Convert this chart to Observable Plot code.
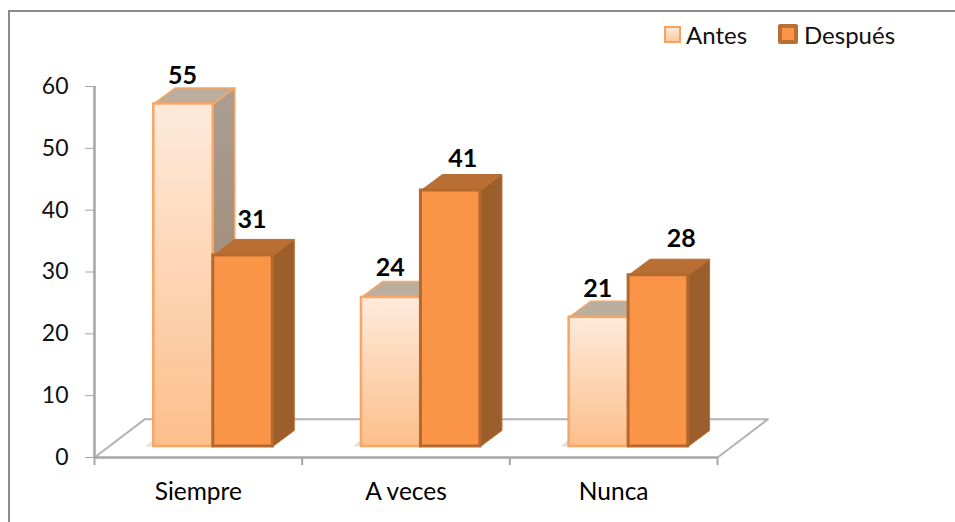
<!DOCTYPE html>
<html>
<head>
<meta charset="utf-8">
<script src="https://cdn.jsdelivr.net/npm/d3@7"></script>
<script src="https://cdn.jsdelivr.net/npm/@observablehq/plot@0.6"></script>
<style>
html,body{margin:0;padding:0;background:#fff;width:955px;height:522px;overflow:hidden;font-family:Lato,sans-serif}
#wrap{position:relative;width:955px;height:522px}
#frame{position:absolute;left:8px;top:10px;right:-4px;bottom:-4px;border:2px solid #8c8c8c}
#legend{position:absolute;left:0;top:0;font-size:24px;color:#111}
.sw{position:absolute;box-sizing:border-box}
.lb{position:absolute;line-height:24px}
svg{position:absolute;left:0;top:0}
</style>
</head>
<body>
<div id="wrap">
<div id="frame"></div>
<div id="chart"></div>
<div id="legend">
  <div class="sw" style="left:664px;top:26px;width:17px;height:17px;border:2.5px solid #f9a25f;background:linear-gradient(#fee9d9,#fcc9a0)"></div>
  <div class="lb" style="left:686px;top:23px" id="l0"></div>
  <div class="sw" style="left:778px;top:24px;width:20px;height:20px;border:4.5px solid #b96f33;border-radius:2px;background:#fa9548"></div>
  <div class="lb" style="left:804px;top:23px" id="l1"></div>
</div>
</div>
<script>
const categories = ["Siempre", "A veces", "Nunca"];
const seriesNames = ["Antes", "Después"];
const antes = [55.4, 24.1, 20.9];
const despues = [30.9, 41.4, 27.7];
const yTicks = [0, 10, 20, 30, 40, 50, 60];
const catEdges = [0, 1, 2, 3];

// oblique 3-D projection, in data units
const barBase = 1.78, barWidth = 0.2865, barShift = 0.072;
const depthX = 0.1035, depthY = 2.59;
const floorX = 0.243, floorY = 6.2;

document.getElementById("l0").textContent = seriesNames[0];
document.getElementById("l1").textContent = seriesNames[1];

const styles = [
  {front:"url(#gA)", edge:"#f9a563", top:"#bcae9f", side:"url(#gS)", w:2.5},
  {front:"#fa9548", edge:"#b5692f", top:"#b96f33", side:"#9c5e2a", w:3}
];
const labelShift = [
  [[-1,-12],[-1,-13],[-1,-12]],
  [[9,-19],[12,-15],[23,-20]]
];

const marks = [
  () => {
    const s = d3.create("svg:defs");
    const mk = (id, a, b) => {
      const g = s.append("linearGradient").attr("id", id).attr("x1",0).attr("y1",0).attr("x2",0).attr("y2",1);
      g.append("stop").attr("offset","0").attr("stop-color",a);
      g.append("stop").attr("offset","1").attr("stop-color",b);
    };
    mk("gA","#feeadb","#fcbf8b");
    mk("gS","#aa9d92","#9c8268");
    return s.node();
  },
  // floor
  Plot.line([
    {x:0,y:0},{x:floorX,y:floorY},{x:3+floorX,y:floorY},{x:3,y:0}
  ], {x:"x", y:"y", stroke:"#b3b3b3", strokeWidth:2}),
  Plot.ruleX(catEdges, {y1:0, y2:-1.3, stroke:"#a6a6a6", strokeWidth:2}),
  Plot.ruleY([0], {stroke:"#a6a6a6", strokeWidth:2.5}),
  Plot.ruleX([0], {y1:0, y2:60, stroke:"#a6a6a6", strokeWidth:2.5}),
  Plot.axisY({ticks:yTicks, tickSize:9, tickPadding:17, stroke:"#a6a6a6", fontSize:23, label:null, color:"#111"}),
  Plot.axisX({ticks:[0.5,1.5,2.5], tickFormat:d=>categories[d-0.5], tickSize:0, tickPadding:25, fontSize:24.5, label:null, anchor:"bottom"})
];

categories.forEach((cat, i) => {
  [antes, despues].forEach((vals, s) => {
    const st = styles[s];
    const x0 = i + 0.5 + barShift + (s === 0 ? -barWidth : 0);
    const x1 = x0 + barWidth;
    const y1 = barBase + vals[i];
    const side = [[x1,barBase],[x1+depthX,barBase+depthY],[x1+depthX,y1+depthY],[x1,y1],[x1,barBase]];
    const top = [[x0,y1],[x0+depthX,y1+depthY],[x1+depthX,y1+depthY],[x1,y1],[x0,y1]];
    const thin = s === 0 ? 1.5 : 1;
    if (s === 0) marks.push(Plot.line([[x0,barBase],[x0-0.04,barBase],[x0,barBase+1.2]], {x:d=>d[0], y:d=>d[1], fill:"#d4d4d4", stroke:"none", fillOpacity:0.7}));
    marks.push(Plot.line(side, {x:d=>d[0], y:d=>d[1], fill:st.side, stroke:s===0?st.edge:st.top, strokeWidth:thin, strokeLinejoin:"round"}));
    marks.push(Plot.line(top, {x:d=>d[0], y:d=>d[1], fill:st.top, stroke:s===0?st.edge:st.top, strokeWidth:thin, strokeLinejoin:"round"}));
    marks.push(Plot.rect([{}], {x1:()=>x0, x2:()=>x1, y1:()=>barBase, y2:()=>y1, fill:st.front, stroke:st.edge, strokeWidth:st.w}));
    marks.push(Plot.text([{}], {x:()=>(x0+x1)/2, y:()=>y1+depthY, text:()=>d3.format(".0f")(vals[i]),
      dx:labelShift[s][i][0], dy:labelShift[s][i][1], fontWeight:"bold", fontSize:25, fill:"#000"}));
  });
});

const chart = Plot.plot({
  width:955, height:522,
  marginLeft:94, marginRight:238, marginTop:86, marginBottom:65,
  style:{background:"transparent", fontFamily:"Lato, sans-serif", overflow:"visible"},
  x:{domain:[0,3], axis:null},
  y:{domain:[0,60], axis:null},
  marks
});
document.getElementById("chart").appendChild(chart);
</script>
</body>
</html>
